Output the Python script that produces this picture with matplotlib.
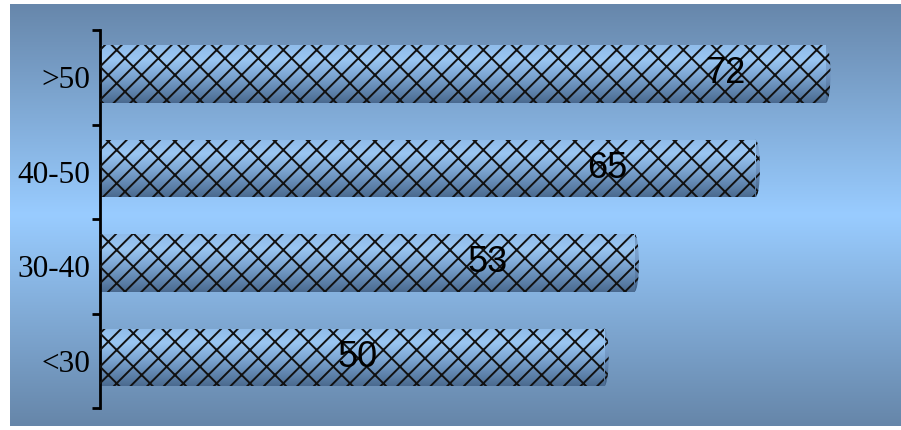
import matplotlib.pyplot as plt
import numpy as np
from matplotlib.patches import Rectangle, Ellipse
from matplotlib.colors import LinearSegmentedColormap

# data
categories = ['<30', '30-40', '40-50', '>50']
values = [50, 53, 65, 72]
label_pos = [25.5, 38.4, 50.3, 62.0]

W, H = 901, 430


def main():
    plt.rcParams['hatch.linewidth'] = 1.4
    fig = plt.figure(figsize=(W / 100, H / 100), dpi=100)
    fig.patch.set_facecolor('white')

    # background gradient panel
    bg = fig.add_axes([10 / W, 4 / H, (W - 10) / W, 422 / H])
    bg.set_axis_off()
    bgcmap = LinearSegmentedColormap.from_list('bg', ['#6787AB', '#99CCFF', '#6686A9'])
    grad = np.linspace(0, 1, 256).reshape(-1, 1)
    bg.imshow(grad, aspect='auto', cmap=bgcmap, extent=(0, 1, 0, 1))

    ax = fig.add_axes([100 / W, 22 / H, (893 - 100) / W, (408 - 30) / H])
    ax.patch.set_alpha(0)
    xmax = (893 - 101) / 10.07

    barcmap = LinearSegmentedColormap.from_list(
        'bar', ['#4A6A8F', '#6489B3', '#80AAD7', '#9AC6F2', '#90BCEA'])
    capcmap = LinearSegmentedColormap.from_list(
        'cap', ['#3F5E82', '#5879A0', '#7196C2', '#7FA6D2', '#6E92BB'])
    h = 0.61
    off = 0.035
    pattern = '//\\'
    for i, v in enumerate(values):
        yc = i + off
        y0 = yc - h / 2
        # right cap of the cylinder
        cap = Ellipse((v, yc), 0.9, h, facecolor='none', edgecolor='none', zorder=1)
        ax.add_patch(cap)
        im = ax.imshow(grad, aspect='auto', cmap=capcmap, origin='lower',
                       extent=(v - 0.5, v + 0.5, y0, y0 + h), zorder=1)
        im.set_clip_path(cap)
        ax.add_patch(Ellipse((v, yc), 0.9, h, facecolor='none', edgecolor='#111111',
                             linewidth=0, hatch=pattern, zorder=1.5))
        # body
        rect = Rectangle((0, y0), v, h, facecolor='none', edgecolor='none', zorder=2)
        ax.add_patch(rect)
        im = ax.imshow(grad, aspect='auto', cmap=barcmap, origin='lower',
                       extent=(0, v, y0, y0 + h), zorder=2)
        im.set_clip_path(rect)
        ax.add_patch(Rectangle((0, y0), v, h, facecolor='none', edgecolor='#111111',
                               linewidth=0, hatch=pattern, zorder=3))
        ax.text(label_pos[i], yc, str(v), ha='center', va='center', fontsize=26,
                family='Liberation Sans', zorder=4)

    ax.set_xlim(0, xmax)
    ax.set_ylim(-0.5, len(categories) - 0.5)
    for s in ['top', 'right', 'bottom']:
        ax.spines[s].set_visible(False)
    ax.spines['left'].set_linewidth(2)
    ax.set_xticks([])
    ax.set_yticks(np.arange(-0.5, len(categories), 1))
    ax.set_yticklabels([])
    ax.set_yticks(np.arange(len(categories)), minor=True)
    ax.set_yticklabels(categories, minor=True, family='Liberation Serif', fontsize=22.5)
    ax.tick_params(axis='y', which='major', length=6, width=2, direction='out')
    ax.tick_params(axis='y', which='minor', length=0, pad=7)

    plt.savefig('out.png', dpi=100)
    plt.close()


if __name__ == '__main__':
    main()
